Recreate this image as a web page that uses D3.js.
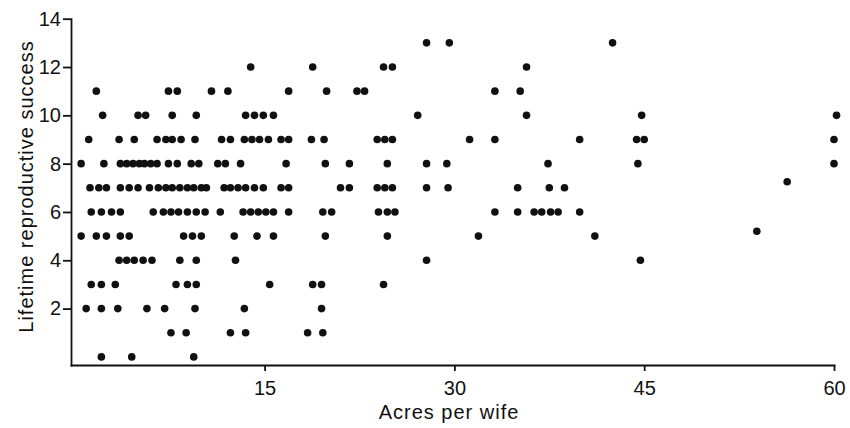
<!DOCTYPE html>
<html>
<head>
<meta charset="utf-8">
<script src="https://cdn.jsdelivr.net/npm/d3@7"></script>
<style>
  body { margin: 0; background: #fff; }
  svg { display: block; }
  .axis path, .axis line { stroke: #111; stroke-width: 1.8; }
  .axis text { font-family: "Liberation Sans", Arial, sans-serif; font-size: 20px; fill: #111; }
  .axis-title { font-family: "Liberation Sans", Arial, sans-serif; font-size: 20px; fill: #111; letter-spacing: 1px; }
  .dot { fill: #111; }
</style>
</head>
<body>
<svg id="chart"></svg>
<script>
// Lifetime reproductive success of each row of dots
const lrsLevels = [13, 12, 11, 10, 9, 8, 7, 6, 5, 4, 3, 2, 1, 0];

// Acres per wife of the dots in each row (same order as lrsLevels)
const acresByRow = [
  [27.8, 29.6, 42.5],
  [13.9, 18.8, 24.4, 25.1, 35.7],
  [1.7, 7.4, 8.1, 10.8, 12.1, 16.9, 19.9, 22.3, 22.9, 33.2, 35.2],
  [2.2, 5.0, 5.6, 7.7, 9.6, 13.5, 14.2, 14.9, 15.7, 27.1, 35.7, 44.8, 60.2],
  [1.1, 3.5, 4.7, 6.5, 7.2, 7.7, 8.4, 9.5, 11.6, 12.3, 13.4, 14.0, 14.6, 15.3, 16.3, 16.9,
   18.7, 19.7, 23.9, 24.5, 25.1, 31.2, 33.2, 39.9, 44.4, 45.0, 60.0],
  [0.5, 2.3, 3.6, 4.1, 4.6, 5.1, 5.5, 6.0, 6.5, 7.4, 8.1, 9.2, 9.8, 11.3, 11.9, 13.1,
   16.7, 19.8, 21.7, 24.7, 27.8, 29.4, 37.4, 44.5, 60.0],
  [1.2, 1.9, 2.5, 3.6, 4.3, 5.0, 5.9, 6.6, 7.2, 7.7, 8.3, 8.9, 9.4, 10.0, 10.4, 11.8,
   12.3, 12.9, 13.5, 14.2, 14.9, 16.3, 16.9, 21.0, 21.7, 23.9, 24.5, 25.1, 27.8, 29.5,
   35.0, 37.5, 38.7],
  [1.3, 2.1, 2.9, 3.6, 6.2, 7.0, 7.6, 8.2, 8.9, 9.6, 10.3, 11.5, 13.3, 13.9, 14.5, 15.1,
   15.7, 16.9, 19.6, 20.3, 24.0, 24.7, 25.3, 33.2, 35.0, 36.3, 36.9, 37.6, 38.2, 39.9],
  [0.5, 1.7, 2.5, 3.6, 4.3, 8.6, 9.3, 10.0, 12.6, 14.4, 15.7, 19.8, 24.7, 31.9, 41.1],
  [3.5, 4.1, 4.7, 5.4, 6.1, 8.3, 9.6, 12.7, 27.8, 44.7],
  [1.3, 2.1, 3.2, 8.0, 8.9, 9.6, 15.4, 18.8, 19.5, 24.4],
  [0.9, 2.1, 3.4, 5.7, 7.1, 9.5, 13.4, 19.5],
  [7.6, 8.8, 12.3, 13.5, 18.4, 19.6],
  [2.1, 4.5, 9.4]
];

// two dots that sit a little off their row in the figure
const offRowAcres = [56.3, 53.9];
const offRowLrs = [7.25, 5.2];

const xTicks = [15, 30, 45, 60];
const yTicks = [2, 4, 6, 8, 10, 12, 14];

class Scatterplot {
  constructor(_config, _data) {
    this.config = {
      parentElement: _config.parentElement,
      containerWidth: _config.containerWidth || 850,
      containerHeight: _config.containerHeight || 428,
      margin: _config.margin || { top: 18.7, right: 16, bottom: 63, left: 71 },
    };
    this.data = _data;
    this.initVis();
  }

  initVis() {
    let vis = this;

    vis.width = vis.config.containerWidth - vis.config.margin.left - vis.config.margin.right;
    vis.height = vis.config.containerHeight - vis.config.margin.top - vis.config.margin.bottom;

    // axes start a touch below zero, like the printed figure
    vis.xScale = d3.scaleLinear().domain([-0.3, 60]).range([0, vis.width]);
    vis.yScale = d3.scaleLinear().domain([-0.335, 14]).range([vis.height, 0]);

    vis.xAxis = d3.axisBottom(vis.xScale)
      .tickValues(xTicks)
      .tickSize(6)
      .tickSizeOuter(0)
      .tickPadding(10);

    vis.yAxis = d3.axisLeft(vis.yScale)
      .tickValues(yTicks)
      .tickSize(8)
      .tickSizeOuter(0)
      .tickPadding(2);

    vis.svg = d3.select(vis.config.parentElement)
      .attr("width", vis.config.containerWidth)
      .attr("height", vis.config.containerHeight);

    vis.chart = vis.svg.append("g")
      .attr("transform", `translate(${vis.config.margin.left},${vis.config.margin.top})`);

    vis.xAxisG = vis.chart.append("g")
      .attr("class", "axis x-axis")
      .attr("transform", `translate(0,${vis.height})`);

    vis.yAxisG = vis.chart.append("g")
      .attr("class", "axis y-axis");

    vis.chart.append("text")
      .attr("class", "axis-title")
      .attr("x", 378)
      .attr("y", 400.8)
      .attr("text-anchor", "middle")
      .text("Acres per wife");

    vis.chart.append("text")
      .attr("class", "axis-title")
      .attr("transform", "translate(-38,167.8) rotate(-90)")
      .attr("text-anchor", "middle")
      .text("Lifetime reproductive success");
  }

  updateVis() {
    let vis = this;
    vis.xValue = d => d.acres;
    vis.yValue = d => d.lrs;
    vis.renderVis();
  }

  renderVis() {
    let vis = this;

    vis.xAxisG.call(vis.xAxis);
    vis.yAxisG.call(vis.yAxis);
    vis.chart.selectAll(".axis path").attr("stroke-linecap", "square");

    vis.chart.selectAll(".dot")
      .data(vis.data)
      .join("circle")
      .attr("class", "dot")
      .attr("cx", d => vis.xScale(vis.xValue(d)))
      .attr("cy", d => vis.yScale(vis.yValue(d)))
      .attr("r", 3.8);
  }
}

const points = [];
acresByRow.forEach((row, i) => {
  row.forEach(a => points.push({ acres: a, lrs: lrsLevels[i] }));
});
offRowAcres.forEach((a, i) => points.push({ acres: a, lrs: offRowLrs[i] }));

const scatter = new Scatterplot({ parentElement: "#chart" }, points);
scatter.updateVis();
</script>
</body>
</html>
